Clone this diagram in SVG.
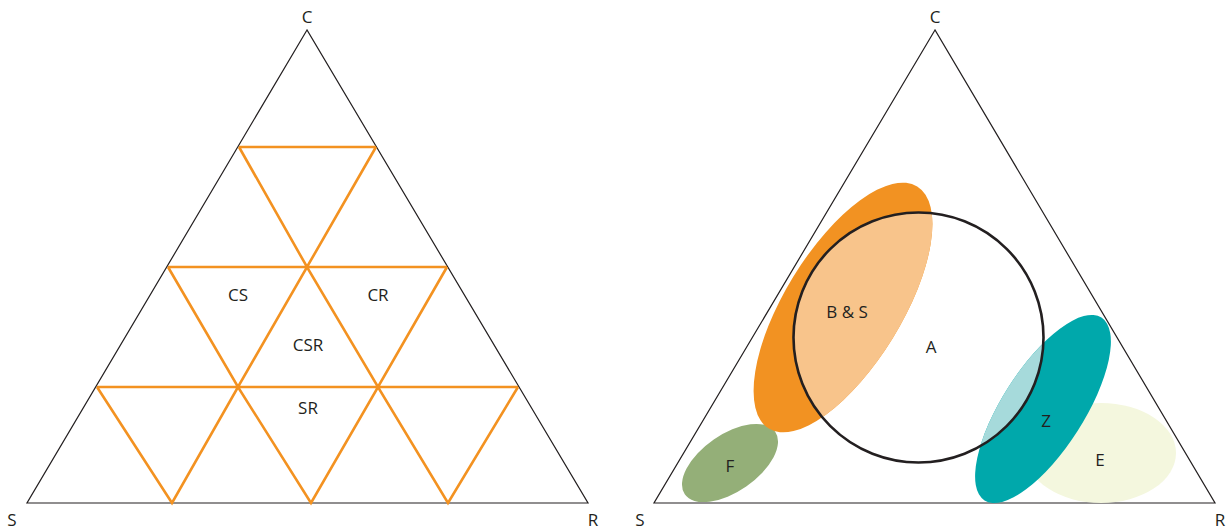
<svg xmlns="http://www.w3.org/2000/svg" width="1227" height="530" viewBox="0 0 1227 530">
<style>
.tri{fill:none;stroke:#231f20;stroke-width:1.2}
.grid{fill:none;stroke:#f39221;stroke-width:2.6;stroke-linejoin:miter}
.lbl{font-family:"Open Sans","Liberation Sans",sans-serif;font-size:17px;fill:#231f20;text-anchor:middle}
</style>
<defs>
<clipPath id="circ" clipPathUnits="userSpaceOnUse"><circle cx="918.5" cy="337.5" r="125"/></clipPath>
</defs>
<g id="left-triangle">
<polygon class="tri" points="307,30 27,503 588,503"/>
<text class="lbl" x="307" y="23">C</text>
<text class="lbl" x="12" y="526">S</text>
<text class="lbl" x="593" y="526">R</text>
</g>
<g id="grid">
<path class="grid" d="M239,147 H376 M168,267 H447 M97,387 H518 M239,147 L307,267 L376,147 M168,267 L238,387 L307,267 L378,387 L447,267 M97,387 L172,503 L238,387 L311,503 L378,387 L448,503 L518,387"/>
<text class="lbl" x="238" y="301">CS</text>
<text class="lbl" x="378" y="301">CR</text>
<text class="lbl" x="308" y="351">CSR</text>
<text class="lbl" x="308" y="414">SR</text>
</g>
<g id="right-triangle">
<polygon class="tri" points="935,30 654,503 1215,503"/>
<text class="lbl" x="935" y="23">C</text>
<text class="lbl" x="640" y="526">S</text>
<text class="lbl" x="1220" y="526">R</text>
</g>
<g id="F">
<ellipse cx="730" cy="463" rx="55" ry="28.5" transform="rotate(-34.7 730 463)" fill="#94af78"/>
<text class="lbl" x="730" y="472">F</text>
</g>
<g id="BS">
<ellipse cx="843" cy="307.5" rx="142" ry="58.5" transform="rotate(-58.5 843 307.5)" fill="#f29222"/>
<g clip-path="url(#circ)">
<ellipse cx="843" cy="307.5" rx="142" ry="58.5" transform="rotate(-58.5 843 307.5)" fill="#f8c48b"/>
</g>
<text class="lbl" x="847" y="318">B &amp; S</text>
</g>
<g id="E">
<ellipse cx="1101" cy="453" rx="75" ry="50" fill="#f4f7de"/>
<text class="lbl" x="1100" y="466">E</text>
</g>
<g id="Z">
<ellipse cx="1043" cy="409" rx="108.5" ry="41" transform="rotate(-57.4 1043 409)" fill="#00a8ab"/>
<g clip-path="url(#circ)">
<ellipse cx="1043" cy="409" rx="108.5" ry="41" transform="rotate(-57.4 1043 409)" fill="#a6dadb"/>
</g>
<text class="lbl" x="1046" y="427">Z</text>
</g>
<g id="A">
<circle cx="918.5" cy="337.5" r="125" fill="none" stroke="#231f20" stroke-width="2.6"/>
<text class="lbl" x="931" y="353">A</text>
</g>
</svg>
